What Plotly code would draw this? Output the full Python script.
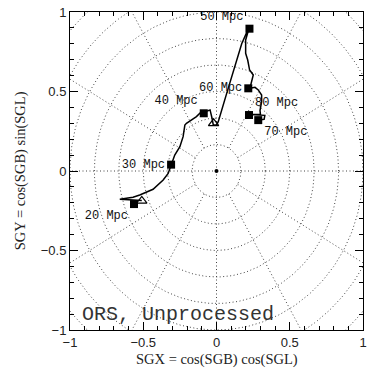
import numpy as np
import plotly.graph_objects as go

# dipole direction track (projected SGX, SGY)
path_x = [-0.51, -0.66, -0.57, -0.524, -0.433, -0.364, -0.33, -0.31, -0.285, -0.25,
          -0.228, -0.216, -0.205, -0.137, -0.103, -0.07, -0.044, -0.03, -0.022, 0.0,
          0.012, 0.07, 0.126, 0.172, 0.21, 0.222, 0.199, 0.199, 0.213, 0.226,
          0.251, 0.24, 0.228, 0.263, 0.285, 0.308, 0.308, 0.297, 0.30, 0.222,
          0.33, 0.325, 0.285]
path_y = [-0.185, -0.178, -0.165, -0.151, -0.115, -0.057, -0.015, 0.04, 0.10, 0.153,
          0.216, 0.289, 0.30, 0.342, 0.373, 0.375, 0.384, 0.33, 0.29, 0.29,
          0.31, 0.49, 0.656, 0.80, 0.88, 0.897, 0.824, 0.74, 0.698, 0.635,
          0.604, 0.562, 0.52, 0.526, 0.51, 0.478, 0.436, 0.38, 0.355, 0.355,
          0.35, 0.325, 0.32]

# distance markers
dist_labels = ["20 Mpc", "30 Mpc", "40 Mpc", "50 Mpc", "60 Mpc", "70 Mpc", "80 Mpc"]
dist_x = [-0.563, -0.31, -0.087, 0.225, 0.217, 0.285, 0.222]
dist_y = [-0.208, 0.04, 0.363, 0.895, 0.52, 0.32, 0.352]
dist_textpos = ["bottom left", "middle left", "top left", "top left",
                "middle left", "bottom right", "top right"]

# open triangles
tri_x = [-0.51, -0.02]
tri_y = [-0.188, 0.30]

# projection grid: latitude rings and longitude spokes
ring_radii = [k / 6 for k in range(1, 9)]
spoke_angles = list(range(0, 360, 30))

GRID = dict(color="#444444", width=1, dash="1px,2.5px")
TITLE_FONT = dict(family="Liberation Serif", size=14.5, color="#222")

fig = go.Figure()

t = np.linspace(0, 2 * np.pi, 361)
for r in ring_radii:
    fig.add_trace(go.Scatter(x=r * np.cos(t), y=r * np.sin(t), mode="lines",
                             line=GRID, hoverinfo="skip", showlegend=False))
for a in spoke_angles:
    rad = np.deg2rad(a)
    r0 = 0 if a % 90 == 0 else ring_radii[0]
    fig.add_trace(go.Scatter(x=[r0 * np.cos(rad), 1.6 * np.cos(rad)],
                             y=[r0 * np.sin(rad), 1.6 * np.sin(rad)],
                             mode="lines", line=GRID, hoverinfo="skip", showlegend=False))

fig.add_trace(go.Scatter(x=[0], y=[0], mode="markers",
                         marker=dict(color="black", size=4), showlegend=False))

fig.add_trace(go.Scatter(x=path_x, y=path_y, mode="lines",
                         line=dict(color="black", width=1.5), showlegend=False))
fig.add_trace(go.Scatter(x=tri_x, y=tri_y, mode="markers",
                         marker=dict(symbol="triangle-up-open", size=9, color="black",
                                     line=dict(width=1.2)),
                         showlegend=False))
fig.add_trace(go.Scatter(x=dist_x, y=dist_y, mode="markers+text",
                         marker=dict(symbol="square", size=8, color="black"),
                         text=dist_labels, textposition=dist_textpos,
                         textfont=dict(family="Liberation Mono", size=12, color="#111"),
                         showlegend=False))

fig.add_annotation(x=-0.93, y=-0.9, xref="x", yref="y", text="ORS, Unprocessed",
                   showarrow=False, xanchor="left", yanchor="middle",
                   font=dict(family="Liberation Mono", size=20, color="#333"))

fig.add_annotation(x=0.5, y=-0.094, xref="paper", yref="paper",
                   text="SGX = cos(SGB) cos(SGL)", showarrow=False,
                   xanchor="center", yanchor="middle", font=TITLE_FONT)
fig.add_annotation(x=-0.17, y=0.5, xref="paper", yref="paper",
                   text="SGY = cos(SGB) sin(SGL)", showarrow=False, textangle=-90,
                   xanchor="center", yanchor="middle", font=TITLE_FONT)

axis = dict(range=[-1, 1], showgrid=False, zeroline=False, showline=True,
            linecolor="black", linewidth=1, mirror="allticks", ticks="inside",
            ticklen=8, tickcolor="black", dtick=0.5, automargin=False,
            ticklabeloverflow="allow",
            tickfont=dict(family="Liberation Sans", size=13, color="#222"),
            minor=dict(dtick=0.1, ticks="inside", ticklen=4, tickcolor="black"))

fig.update_layout(
    width=382, height=382,
    margin=dict(l=70, r=19, t=12, b=52),
    plot_bgcolor="white", paper_bgcolor="white",
    xaxis=axis,
    yaxis=axis,
)

# drop the default page margin so the figure sits at the window corner
fig.write_html("out.html", config={"displayModeBar": False},
               post_script="document.body.style.margin='0';")
